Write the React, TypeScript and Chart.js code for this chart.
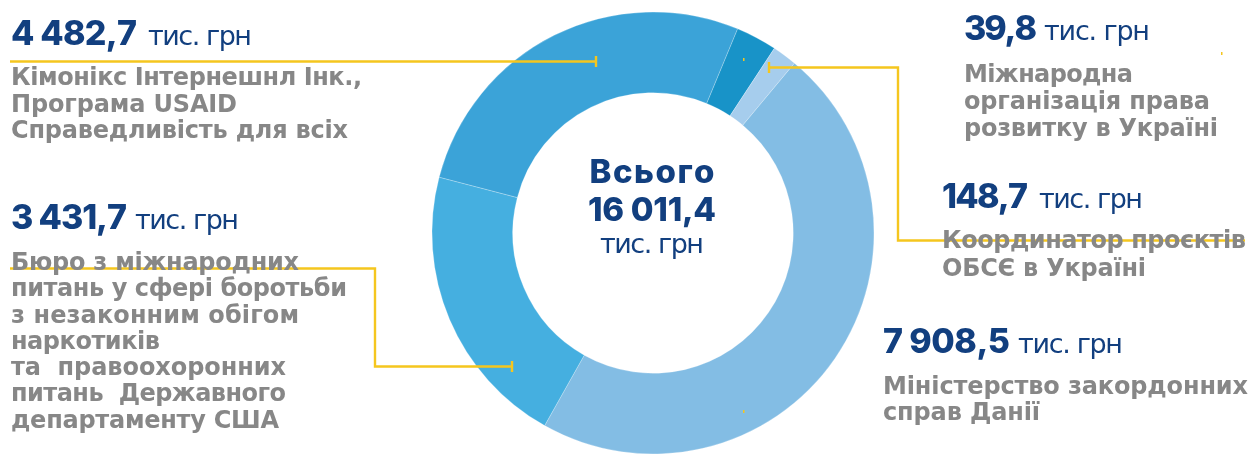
import React, { useEffect, useRef } from 'react';
import { Chart, registerables } from 'chart.js';

Chart.register(...registerables);

// ---- data ----
const sources = [
  'Кімонікс Інтернешнл Інк., Програма USAID Справедливість для всіх',
  'Міжнародна організація права розвитку в Україні',
  'Координатор проєктів ОБСЄ в Україні',
  'Міністерство закордонних справ Данії',
  'Бюро з міжнародних питань у сфері боротьби з незаконним обігом наркотиків та правоохоронних питань Державного департаменту США',
];
const amounts = [4482.7, 39.8, 148.7, 7908.5, 3431.7]; // тис. грн
// share of the ring each slice occupies as drawn in the picture (%)
const sliceShares = [27.2, 3.0, 1.8, 47.1, 20.9];
const sliceColors = ['#3BA3D8', '#1893C8', '#A6CDED', '#83BDE4', '#45AFE0'];
const labelLines = [
  ['Кімонікс Інтернешнл Інк.,', 'Програма USAID', 'Справедливість для всіх'],
  ['Міжнародна', 'організація права', 'розвитку в Україні'],
  ['Координатор проєктів', 'ОБСЄ в Україні'],
  ['Міністерство закордонних', 'справ Данії'],
  [
    'Бюро з міжнародних',
    'питань у сфері боротьби',
    'з незаконним обігом',
    'наркотиків',
    'та  правоохоронних',
    'питань  Державного',
    'департаменту США',
  ],
];
const unitText = 'тис. грн';
const totalTitle = 'Всього';

// ---- styles / layout ----
const NAVY = '#123F7F';
const GREY = '#878787';
const YELLOW = '#F5C61E';
const FONT = '"DejaVu Sans", sans-serif';
const NUM_FONT = 'Inter, "DejaVu Sans", sans-serif';

const W = 1259;
const H = 455;
const CX = 653;
const CY = 233;
const R_OUT = 221;
const R_IN = 140;

type Block = {
  x: number;
  vBase: number;
  vW: number;
  uX: number;
  uW: number;
  lines: [number, number][];
};
const LABEL_LAYOUT: Block[] = [
  { x: 11, vBase: 45, vW: 126, uX: 148, uW: 104, lines: [[85, 351], [111.5, 226], [138, 337]] },
  { x: 964, vBase: 40, vW: 73, uX: 1044, uW: 106, lines: [[82, 169], [109, 246], [136, 254]] },
  { x: 942, vBase: 208, vW: 86, uX: 1039, uW: 104, lines: [[248, 304], [276, 204]] },
  { x: 883, vBase: 353, vW: 127, uX: 1018, uW: 105, lines: [[394, 365], [420, 157]] },
  {
    x: 11, vBase: 229, vW: 116, uX: 135, uW: 104,
    lines: [[270, 288], [296, 336], [323, 288], [349, 149], [375, 275], [401, 275], [428, 268]],
  },
];

// leader lines (polyline points) and end ticks
const LEADERS: { pts: [number, number][]; tick: [number, number] }[] = [
  { pts: [[10, 61.5], [596, 61.5]], tick: [596, 61.5] },
  { pts: [[10, 268.5], [375, 268.5], [375, 366.5], [512, 366.5]], tick: [512, 366.5] },
  { pts: [[769, 67.5], [898, 67.5], [898, 240.5], [1245, 240.5]], tick: [769, 67.5] },
];
const SPECKS: [number, number][] = [[743, 58], [743, 410], [1221, 52]];

function fmt(v: number): string {
  const [i, d] = v.toFixed(1).split('.');
  const grouped = i.replace(/\B(?=(\d{3})+(?!\d))/g, ' ');
  return grouped + ',' + d;
}

function drawSpaced(
  ctx: CanvasRenderingContext2D,
  text: string,
  x: number,
  y: number,
  target: number,
  align: 'left' | 'center' = 'left'
) {
  const chars = Array.from(text);
  const widths = chars.map((c) => ctx.measureText(c).width);
  const natural = widths.reduce((a, b) => a + b, 0);
  const extra = chars.length > 1 ? (target - natural) / (chars.length - 1) : 0;
  let cx = align === 'center' ? x - target / 2 : x;
  ctx.textAlign = 'left';
  chars.forEach((c, i) => {
    ctx.fillText(c, cx, y);
    cx += widths[i] + extra;
  });
}

const overlayPlugin = {
  id: 'overlay',
  afterDraw(chart: any) {
    const ctx: CanvasRenderingContext2D = chart.ctx;
    ctx.save();
    ctx.textBaseline = 'alphabetic';

    // leader lines
    ctx.strokeStyle = YELLOW;
    ctx.fillStyle = YELLOW;
    ctx.lineWidth = 2.4;
    ctx.lineJoin = 'miter';
    LEADERS.forEach((l) => {
      ctx.beginPath();
      l.pts.forEach(([x, y], i) => (i === 0 ? ctx.moveTo(x, y) : ctx.lineTo(x, y)));
      ctx.stroke();
      ctx.fillRect(l.tick[0] - 1.2, l.tick[1] - 5.5, 2.4, 11);
    });
    SPECKS.forEach(([x, y]) => ctx.fillRect(x, y, 1.5, 3));

    // labels
    LABEL_LAYOUT.forEach((b, i) => {
      ctx.fillStyle = NAVY;
      ctx.font = `800 34px ${NUM_FONT}`;
      drawSpaced(ctx, fmt(amounts[i]), b.x, b.vBase, b.vW);
      ctx.font = `27px ${FONT}`;
      drawSpaced(ctx, unitText, b.uX, b.vBase, b.uW);
      ctx.fillStyle = GREY;
      ctx.font = `bold 24px ${FONT}`;
      labelLines[i].forEach((line, j) => {
        const [base, w] = b.lines[j];
        drawSpaced(ctx, line, b.x, base, w);
      });
    });

    // centre total
    const total = amounts.reduce((a, b) => a + b, 0);
    ctx.fillStyle = NAVY;
    ctx.font = `800 33px ${NUM_FONT}`;
    drawSpaced(ctx, totalTitle, 652, 183, 125, 'center');
    drawSpaced(ctx, fmt(total), 652, 221, 128, 'center');
    ctx.font = `27px ${FONT}`;
    drawSpaced(ctx, unitText, 652, 253, 104, 'center');

    ctx.restore();
  },
};

export default function App() {
  const ref = useRef<HTMLCanvasElement | null>(null);

  useEffect(() => {
    if (!ref.current) return;
    const chart = new Chart(ref.current, {
      type: 'doughnut',
      data: {
        labels: sources,
        datasets: [
          {
            data: sliceShares,
            backgroundColor: sliceColors,
            borderColor: 'rgba(255,255,255,0.3)',
            borderWidth: 0.8,
          },
        ],
      },
      options: {
        responsive: false,
        maintainAspectRatio: false,
        animation: false,
        devicePixelRatio: 1,
        rotation: 284.6,
        radius: R_OUT,
        cutout: R_IN,
        layout: {
          padding: {
            left: CX - R_OUT,
            right: W - CX - R_OUT,
            top: CY - R_OUT,
            bottom: H - CY - R_OUT,
          },
        },
        plugins: {
          legend: { display: false },
          tooltip: { enabled: false },
        },
      },
      plugins: [overlayPlugin],
    });
    return () => chart.destroy();
  }, []);

  return (
    <div style={{ position: 'absolute', left: 0, top: 0, width: W, height: H, background: '#fff' }}>
      <canvas ref={ref} width={W} height={H} style={{ display: 'block', width: W, height: H }} />
    </div>
  );
}
